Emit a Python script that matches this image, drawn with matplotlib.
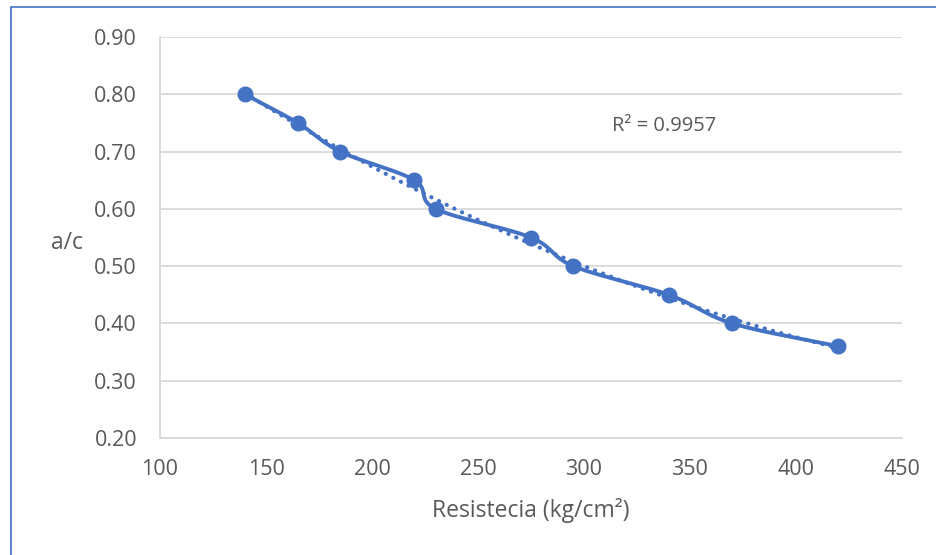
import matplotlib
matplotlib.use("Agg")
import matplotlib.pyplot as plt
import numpy as np
from matplotlib.patches import Rectangle

# datos del ensayo
resistencia = [140, 165, 185, 220, 230, 275, 295, 340, 370, 420]
a_c = [0.80, 0.75, 0.70, 0.65, 0.60, 0.55, 0.50, 0.45, 0.40, 0.36]
r2_label = "R² = 0.9957"

BLUE = "#4472C4"
GREY_TXT = "#595959"
GRID = "#D9D9D9"

plt.rcParams['font.family'] = ['Open Sans', 'DejaVu Sans']


def catmull_rom(x, y, n=30):
    # curva suavizada tipo Excel entre puntos consecutivos
    x = np.asarray(x, float)
    y = np.asarray(y, float)
    px = np.concatenate([[2 * x[0] - x[1]], x, [2 * x[-1] - x[-2]]])
    py = np.concatenate([[2 * y[0] - y[1]], y, [2 * y[-1] - y[-2]]])
    xs, ys = [], []
    t = np.linspace(0, 1, n)
    for i in range(1, len(px) - 2):
        p0, p1, p2, p3 = [np.array([px[j], py[j]]) for j in (i - 1, i, i + 1, i + 2)]
        # tangentes reducidas para parecerse al suavizado de Excel
        m1 = (p2 - p0) / 6.0
        m2 = (p3 - p1) / 6.0
        c1 = p1 + m1
        c2 = p2 - m2
        b = ((1 - t) ** 3)[:, None] * p1 + (3 * (1 - t) ** 2 * t)[:, None] * c1 \
            + (3 * (1 - t) * t ** 2)[:, None] * c2 + (t ** 3)[:, None] * p2
        xs.extend(b[:, 0])
        ys.extend(b[:, 1])
    return np.array(xs), np.array(ys)


fig = plt.figure(figsize=(9.37, 5.55), dpi=100)
ax = fig.add_axes([0.1708, 0.2108, 0.7918, 0.7225])

# marco del grafico
fig.patches.append(Rectangle((11 / 937, -0.1), 1.2, 1 - 7 / 555 + 0.1, transform=fig.transFigure,
                             fill=False, edgecolor=BLUE, linewidth=1.2))

# linea de tendencia polinomica
coef = np.polyfit(resistencia, a_c, 2)
xt = np.linspace(min(resistencia), max(resistencia), 200)
ax.plot(xt, np.polyval(coef, xt), linestyle=(0, (0.05, 2.0)), color=BLUE, linewidth=3.0,
        dash_capstyle='round', zorder=3)

sx, sy = catmull_rom(resistencia, a_c)
ax.plot(sx, sy, color=BLUE, linewidth=2.8, zorder=4)
ax.plot(resistencia, a_c, 'o', color=BLUE, markersize=10.5, zorder=5)

ax.set_xlim(100, 450)
ax.set_ylim(0.20, 0.90)
ax.set_xticks(np.arange(100, 451, 50))
ax.set_yticks(np.arange(0.2, 0.91, 0.1))
ax.set_yticklabels([f"{v:.2f}" for v in np.arange(0.2, 0.91, 0.1)])
ax.grid(axis='y', color=GRID, linewidth=1.3)
ax.set_axisbelow(True)
for s in ['top', 'right']:
    ax.spines[s].set_visible(False)
for s in ['left', 'bottom']:
    ax.spines[s].set_color(GRID)
    ax.spines[s].set_linewidth(1.3)
ax.tick_params(length=0, labelsize=15.5, colors=GREY_TXT)
ax.tick_params(axis='y', pad=16.5)
ax.tick_params(axis='x', pad=15)

ax.set_xlabel("Resistecia (kg/cm²)", fontsize=16.5, color=GREY_TXT, va='center')
ax.xaxis.set_label_coords(0.5, -0.18)
ax.set_ylabel("a/c", fontsize=16.5, color=GREY_TXT, rotation=0, va='center', ha='center')
ax.yaxis.set_label_coords(-0.125, 0.487)

ax.text(0.609, 0.778, r2_label, transform=ax.transAxes, fontsize=14.5, color=GREY_TXT,
        va='center', ha='left')

fig.savefig("out.png", dpi=100)
